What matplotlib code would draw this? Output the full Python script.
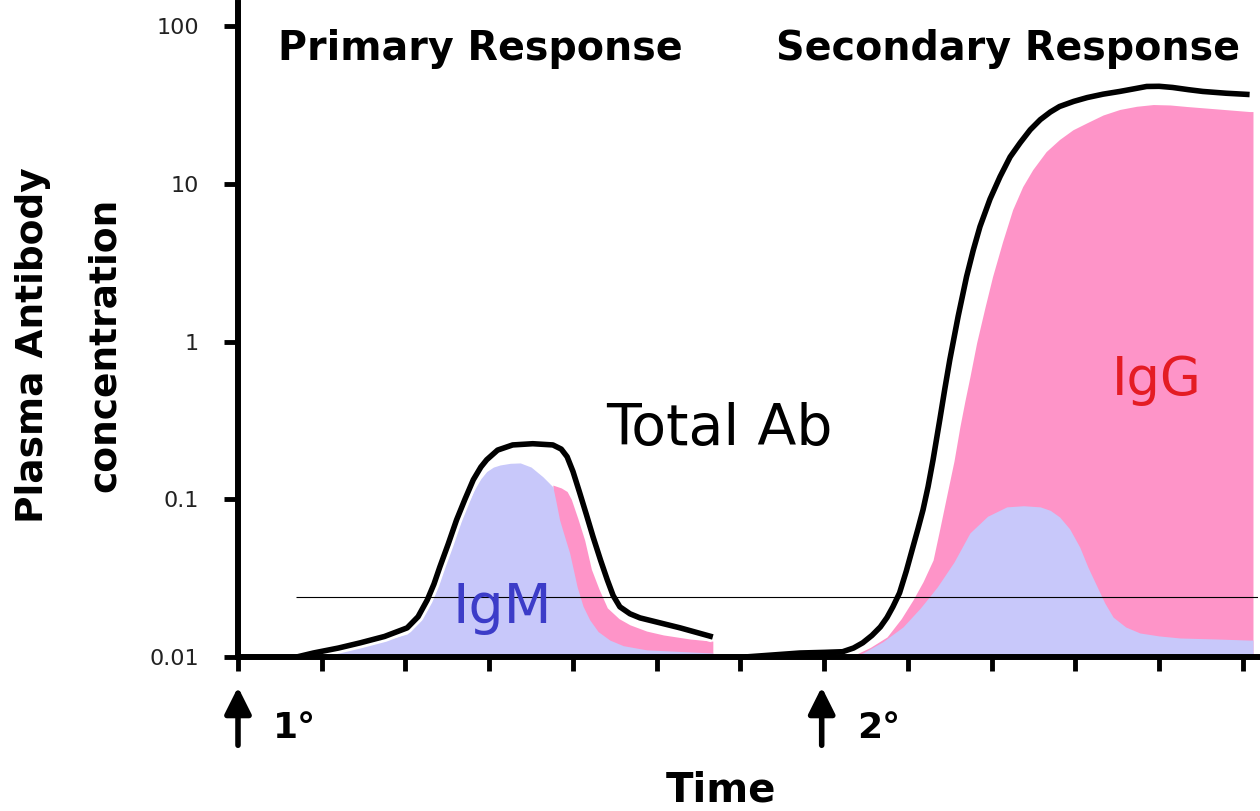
import matplotlib
matplotlib.use('Agg')
import matplotlib.pyplot as plt
import matplotlib.patheffects as pe

# time in tick units (12 ticks), concentration on log scale
# primary response
prim_total_t = [0.70, 0.90, 1.20, 1.46, 1.75, 2.02, 2.15, 2.26, 2.34, 2.41, 2.51, 2.61, 2.71, 2.81, 2.90, 2.97,
                3.10, 3.28, 3.52, 3.76, 3.86, 3.93, 4.00, 4.08, 4.16, 4.24, 4.33, 4.41, 4.48, 4.56, 4.68, 4.80,
                5.28, 5.67]
prim_total = [0.0100, 0.0106, 0.0114, 0.0123, 0.0135, 0.0153, 0.0180, 0.0230, 0.0290, 0.0372, 0.0520, 0.0740,
              0.100, 0.133, 0.160, 0.178, 0.205, 0.221, 0.225, 0.221, 0.208, 0.186, 0.150, 0.110, 0.080, 0.0577,
              0.041, 0.0308, 0.0245, 0.0208, 0.0188, 0.0177, 0.0153, 0.0134]

prim_igm_t = [0.70, 0.90, 1.46, 2.02, 2.15, 2.26, 2.41, 2.51, 2.61, 2.71, 2.81, 2.90, 2.97, 3.05, 3.13, 3.25,
              3.37, 3.50, 3.64, 3.76, 3.80, 3.84, 3.90, 3.96, 4.05, 4.12, 4.20, 4.30, 4.44, 4.60, 4.88, 5.67]
prim_igm = [0.0100, 0.0103, 0.0115, 0.0140, 0.0165, 0.0200, 0.032, 0.045, 0.062, 0.085, 0.112, 0.135, 0.150,
            0.160, 0.165, 0.169, 0.170, 0.160, 0.139, 0.120, 0.095, 0.074, 0.058, 0.0457, 0.0278, 0.021, 0.0172,
            0.0145, 0.0128, 0.0118, 0.0111, 0.0106]

prim_igg_t = [3.76, 3.86, 3.93, 3.98, 4.06, 4.14, 4.22, 4.31, 4.41, 4.55, 4.68, 4.88, 5.08, 5.40, 5.67]
prim_igg = [0.123, 0.118, 0.112, 0.100, 0.075, 0.055, 0.036, 0.027, 0.0205, 0.0175, 0.0160, 0.0146, 0.0138,
            0.0130, 0.0126]

# secondary response
sec_total_t = [6.05, 6.71, 7.00, 7.22, 7.35, 7.46, 7.57, 7.67, 7.75, 7.82, 7.90, 7.98, 8.06, 8.12, 8.18, 8.24,
               8.30, 8.38, 8.44, 8.50, 8.60, 8.70, 8.78, 8.86, 8.98, 9.10, 9.22, 9.34, 9.46, 9.58, 9.70, 9.81,
               9.98, 10.14, 10.33, 10.53, 10.70, 10.85, 11.00, 11.16, 11.35, 11.52, 11.80, 12.08]
sec_total = [0.0100, 0.0106, 0.0107, 0.0108, 0.0114, 0.0123, 0.0137, 0.0155, 0.0178, 0.0208, 0.0255, 0.035,
             0.0499, 0.065, 0.0857, 0.120, 0.178, 0.319, 0.50, 0.767, 1.45, 2.58, 3.8, 5.35, 8.0, 11.1, 14.8,
             18.2, 22.0, 25.5, 28.5, 30.9, 33.3, 35.2, 37.0, 38.5, 40.0, 41.4, 41.5, 40.8, 39.5, 38.5, 37.5, 36.8]

sec_igg_t = [7.31, 7.55, 7.75, 7.92, 8.06, 8.18, 8.30, 8.38, 8.47, 8.55, 8.62, 8.68, 8.74, 8.82, 8.92, 9.01,
             9.13, 9.25, 9.37, 9.49, 9.65, 9.81, 9.97, 10.14, 10.33, 10.53, 10.73, 10.93, 11.13, 11.33, 11.70,
             12.08, 12.12]
sec_igg = [0.0100, 0.0115, 0.0134, 0.0175, 0.0230, 0.030, 0.0412, 0.065, 0.110, 0.175, 0.288, 0.42, 0.598,
           0.982, 1.65, 2.58, 4.3, 6.86, 9.6, 12.3, 16.0, 19.1, 22.0, 24.4, 27.3, 29.6, 31.0, 31.8, 31.6, 30.9,
           29.8, 28.7, 28.7]

sec_igm_t = [7.31, 7.46, 7.70, 7.94, 8.15, 8.35, 8.55, 8.74, 8.95, 9.18, 9.38, 9.58, 9.70, 9.81, 9.93, 10.05,
             10.15, 10.26, 10.35, 10.45, 10.60, 10.77, 11.00, 11.25, 11.70, 12.08, 12.12]
sec_igm = [0.0100, 0.0106, 0.0125, 0.0155, 0.0205, 0.0278, 0.040, 0.0612, 0.078, 0.0895, 0.091, 0.0895, 0.085,
           0.0773, 0.065, 0.0499, 0.037, 0.0278, 0.022, 0.0179, 0.0155, 0.0142, 0.0136, 0.0132, 0.0130, 0.0128,
           0.0128]

threshold = 0.024
threshold_start = 0.69

yticks = [0.01, 0.1, 1, 10, 100]
ytick_labels = ['0.01', '0.1', '1', '10', '100']
xticks = list(range(13))

pink = '#fe94c8'
lavender = '#c8c8fa'

fig = plt.figure(figsize=(12.6, 8.11), dpi=100)
ax = fig.add_axes([238 / 1260, 154 / 811, 1020 / 1260, 654 / 811])
ax.set_yscale('log')
ax.set_xlim(0, 12.18)
ax.set_ylim(0.01, 140)

ax.fill_between(prim_igg_t, 0.01, prim_igg, color=pink, lw=0, zorder=1)
ax.fill_between(prim_igm_t, 0.01, prim_igm, color=lavender, lw=0, zorder=1.1)
ax.fill_between(sec_igg_t, 0.01, sec_igg, color=pink, lw=0, zorder=1)
ax.fill_between(sec_igm_t, 0.01, sec_igm, color=lavender, lw=0, zorder=1.1)

halo = [pe.Stroke(linewidth=8, foreground='white'), pe.Normal()]
ax.plot(prim_total_t, prim_total, color='black', lw=4, solid_capstyle='butt', solid_joinstyle='round',
        path_effects=halo, zorder=2)
ax.plot(sec_total_t, sec_total, color='black', lw=4, solid_capstyle='butt', solid_joinstyle='round',
        path_effects=halo, zorder=2)

ax.hlines(threshold, threshold_start, 12.18, color='black', lw=0.8, zorder=3)

for s in ['top', 'right']:
    ax.spines[s].set_visible(False)
for s in ['left', 'bottom']:
    ax.spines[s].set_linewidth(4.3)

ax.set_yticks(yticks)
ax.set_yticklabels(ytick_labels)
ax.yaxis.set_minor_locator(matplotlib.ticker.NullLocator())
ax.set_xticks(xticks)
ax.set_xticklabels([])
ax.tick_params(axis='y', length=10, width=3.5, pad=18, labelsize=16, labelcolor='#222222')
ax.tick_params(axis='x', length=10, width=3.5)

# titles and labels
ax.text(2.89, 72, 'Primary Response', fontsize=28.5, fontweight='bold', ha='center', va='center')
ax.text(9.20, 72, 'Secondary Response', fontsize=28.5, fontweight='bold', ha='center', va='center')
ax.text(5.75, 0.275, 'Total Ab', fontsize=41, ha='center', va='center')
ax.text(3.16, 0.0205, 'IgM', fontsize=40, color='#3c3cc8', ha='center', va='center', zorder=4)
ax.text(10.97, 0.573, 'IgG', fontsize=38, color='#e41c24', ha='center', va='center')

tr = ax.get_xaxis_transform()
for t, lab in [(0, '1°'), (6.97, '2°')]:
    ax.annotate('', xy=(t, -0.046), xytext=(t, -0.135), xycoords=tr, textcoords=tr,
                arrowprops=dict(arrowstyle='-|>,head_length=0.8,head_width=0.4', color='black', lw=4,
                                mutation_scale=20, shrinkA=0, shrinkB=0),
                annotation_clip=False)
    ax.text(t + 0.42, -0.108, lab, transform=tr, fontsize=26, fontweight='bold', ha='left', va='center')

fig.text(721 / 1260, 1 - 790 / 811, 'Time', fontsize=29, fontweight='bold', ha='center', va='center')
fig.text(33 / 1260, 1 - 345 / 811, 'Plasma Antibody', fontsize=27, fontweight='bold',
         rotation=90, ha='center', va='center')
fig.text(105 / 1260, 1 - 345 / 811, 'concentration', fontsize=27, fontweight='bold',
         rotation=90, ha='center', va='center')

fig.savefig('out.png', dpi=100)
